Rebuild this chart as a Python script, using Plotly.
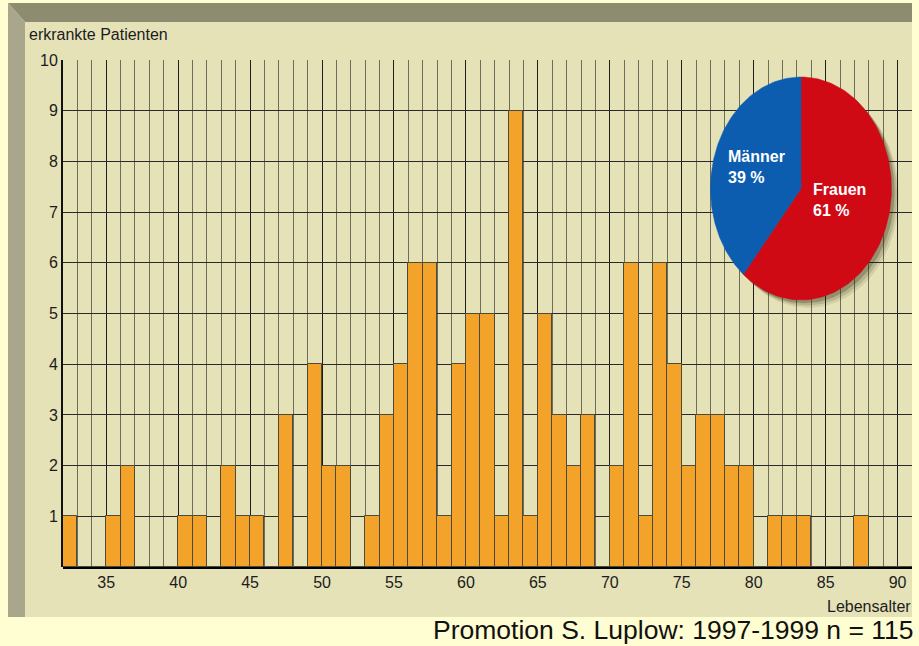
import numpy as np
import plotly.graph_objects as go

# ---------------- data ----------------
ages = list(range(32, 91))
patients = [1, 0, 0, 1, 2, 0, 0, 0, 1, 1, 0, 2, 1, 1, 0, 3, 0, 4, 2, 2,
            0, 1, 3, 4, 6, 6, 1, 4, 5, 5, 1, 9, 1, 5, 3, 2, 3, 0, 2, 6,
            1, 6, 4, 2, 3, 3, 2, 2, 0, 1, 1, 1, 0, 0, 0, 1, 0, 0, 0]
x_ticks = [35, 40, 45, 50, 55, 60, 65, 70, 75, 80, 85, 90]
y_ticks = [1, 2, 3, 4, 5, 6, 7, 8, 9, 10]
sex_labels = ["Männer", "Frauen"]
sex_share = [39, 61]
sex_colors = ["#0C5DB0", "#CF0A14"]

y_title = "erkrankte Patienten"
x_title = "Lebensalter"
footer = "Promotion S. Luplow: 1997-1999 n = 115"

W, H = 919, 646
PAGE = "#FFFDD2"
PANEL = "#E6E2B8"
BAR = "#F3A32A"
FONT = "Liberation Sans, Arial, sans-serif"


def px(x):
    return x / W


def py(y):
    return 1 - y / H


fig = go.Figure()

# ---------------- bars ----------------
fig.add_trace(go.Bar(
    x=ages, y=patients, offset=0, width=1,
    marker=dict(color=BAR, line=dict(color="#4d4a3a", width=1)),
    xaxis="x", yaxis="y", showlegend=False, hoverinfo="x+y",
))

# ---------------- pie drawn as ellipse ----------------
total = sum(sex_share)
start = 90.0
f_deg = 360.0 * sex_share[1] / total
m_deg = 360.0 * sex_share[0] / total


def wedge(a0, a1, n=120):
    t = np.radians(np.linspace(a0, a1, n))
    xs = np.concatenate([[0.0], np.cos(t), [0.0]])
    ys = np.concatenate([[0.0], np.sin(t), [0.0]])
    return xs, ys


full = np.radians(np.linspace(0, 360, 200))
for dx, dy, op in [(0.08, -0.07, 0.10), (0.06, -0.05, 0.15), (0.035, -0.03, 0.25)]:
    fig.add_trace(go.Scatter(
        x=np.cos(full) + dx, y=np.sin(full) + dy, mode="lines", fill="toself",
        fillcolor=f"rgba(40,35,10,{op})", line=dict(width=0),
        xaxis="x2", yaxis="y2", showlegend=False, hoverinfo="skip"))

xs, ys = wedge(start, start - f_deg)
fig.add_trace(go.Scatter(x=xs, y=ys, mode="lines", fill="toself",
                         fillcolor=sex_colors[1], line=dict(color=sex_colors[1], width=0.5),
                         xaxis="x2", yaxis="y2", showlegend=False,
                         name=sex_labels[1], hoverinfo="name"))
xs, ys = wedge(start, start + m_deg)
fig.add_trace(go.Scatter(x=xs, y=ys, mode="lines", fill="toself",
                         fillcolor=sex_colors[0], line=dict(color=sex_colors[0], width=0.5),
                         xaxis="x2", yaxis="y2", showlegend=False,
                         name=sex_labels[0], hoverinfo="name"))

# ---------------- frame shapes ----------------
shapes = [
    dict(type="rect", xref="paper", yref="paper", x0=px(25), x1=px(912), y0=py(617), y1=py(22),
         fillcolor=PANEL, line=dict(width=0), layer="below"),
    dict(type="path", xref="paper", yref="paper",
         path=f"M {px(8)},{py(3)} L {px(912)},{py(3)} L {px(912)},{py(22)} L {px(25)},{py(22)} Z",
         fillcolor="#8D8B70", line=dict(width=0), layer="below"),
    dict(type="path", xref="paper", yref="paper",
         path=f"M {px(8)},{py(3)} L {px(25)},{py(22)} L {px(25)},{py(617)} L {px(8)},{py(617)} Z",
         fillcolor="#A9A78B", line=dict(width=0), layer="below"),
]

annotations = [
    dict(text=y_title, xref="paper", yref="paper", x=px(27), y=py(35), xanchor="left",
         yanchor="middle", showarrow=False, font=dict(family=FONT, size=16, color="#1c1c1c")),
    dict(text=x_title, xref="paper", yref="paper", x=px(913), y=py(606), xanchor="right",
         yanchor="middle", showarrow=False, font=dict(family=FONT, size=16, color="#1c1c1c")),
    dict(text=footer, xref="paper", yref="paper", x=px(916), y=py(630), xanchor="right",
         yanchor="middle", showarrow=False, font=dict(family=FONT, size=26.5, color="#111111")),
    dict(text=f"<b>{sex_labels[0]}<br>{sex_share[0]} %</b>", xref="x2", yref="y2",
         x=-0.83, y=0.19, xanchor="left", yanchor="middle", align="left", showarrow=False,
         font=dict(family=FONT, size=16, color="white")),
    dict(text=f"<b>{sex_labels[1]}<br>{sex_share[1]} %</b>", xref="x2", yref="y2",
         x=0.11, y=-0.10, xanchor="left", yanchor="middle", align="left", showarrow=False,
         font=dict(family=FONT, size=16, color="white")),
]

cx, cy, a, b = 801, 188.5, 90.5, 111.5
r = 1.12

fig.update_layout(
    width=W, height=H, autosize=False,
    margin=dict(l=0, r=0, t=0, b=0, pad=0, autoexpand=False),
    paper_bgcolor=PAGE, plot_bgcolor="rgba(0,0,0,0)",
    shapes=shapes, annotations=annotations,
    bargap=0, showlegend=False,
    xaxis=dict(
        domain=[px(63), px(912)], range=[32, 91], automargin=False,
        tickvals=x_ticks, ticks="", showline=False, zeroline=False,
        showgrid=True, gridcolor="#1e1e1e", gridwidth=1,
        minor=dict(dtick=1, tick0=32, showgrid=True, gridcolor="#6e6c5a", gridwidth=1),
        tickfont=dict(family=FONT, size=16, color="#1c1c1c"), ticklabelstandoff=4,
        layer="below traces", fixedrange=True,
    ),
    yaxis=dict(
        domain=[py(567), py(60)], range=[0, 10], automargin=False,
        tickvals=y_ticks, ticks="", showgrid=True, gridcolor="#2a2a2a", gridwidth=1,
        showline=True, linecolor="#111111", linewidth=2,
        zeroline=True, zerolinecolor="#000000", zerolinewidth=3,
        tickfont=dict(family=FONT, size=16, color="#1c1c1c"),
        layer="below traces", fixedrange=True,
    ),
    xaxis2=dict(domain=[px(cx - a * r), px(cx + a * r)], range=[-r, r], visible=False,
                anchor="y2", fixedrange=True, automargin=False),
    yaxis2=dict(domain=[py(cy + b * r), py(cy - b * r)], range=[-r, r], visible=False,
                anchor="x2", fixedrange=True, automargin=False),
)

js = (
    "var s=document.documentElement.style;s.margin='0';s.padding='0';s.overflow='hidden';"
    "s.height='" + str(H) + "px';s.background='" + PAGE + "';"
    "var b=document.body.style;b.margin='0';b.padding='0';b.overflow='hidden';"
    "b.height='" + str(H) + "px';b.background='" + PAGE + "';"
    "var d=document.querySelector('.plotly-graph-div');"
    "d.style.position='absolute';d.style.top='0px';d.style.left='0px';"
)

fig.write_html("out.html", config={"displayModeBar": False}, post_script=js)
